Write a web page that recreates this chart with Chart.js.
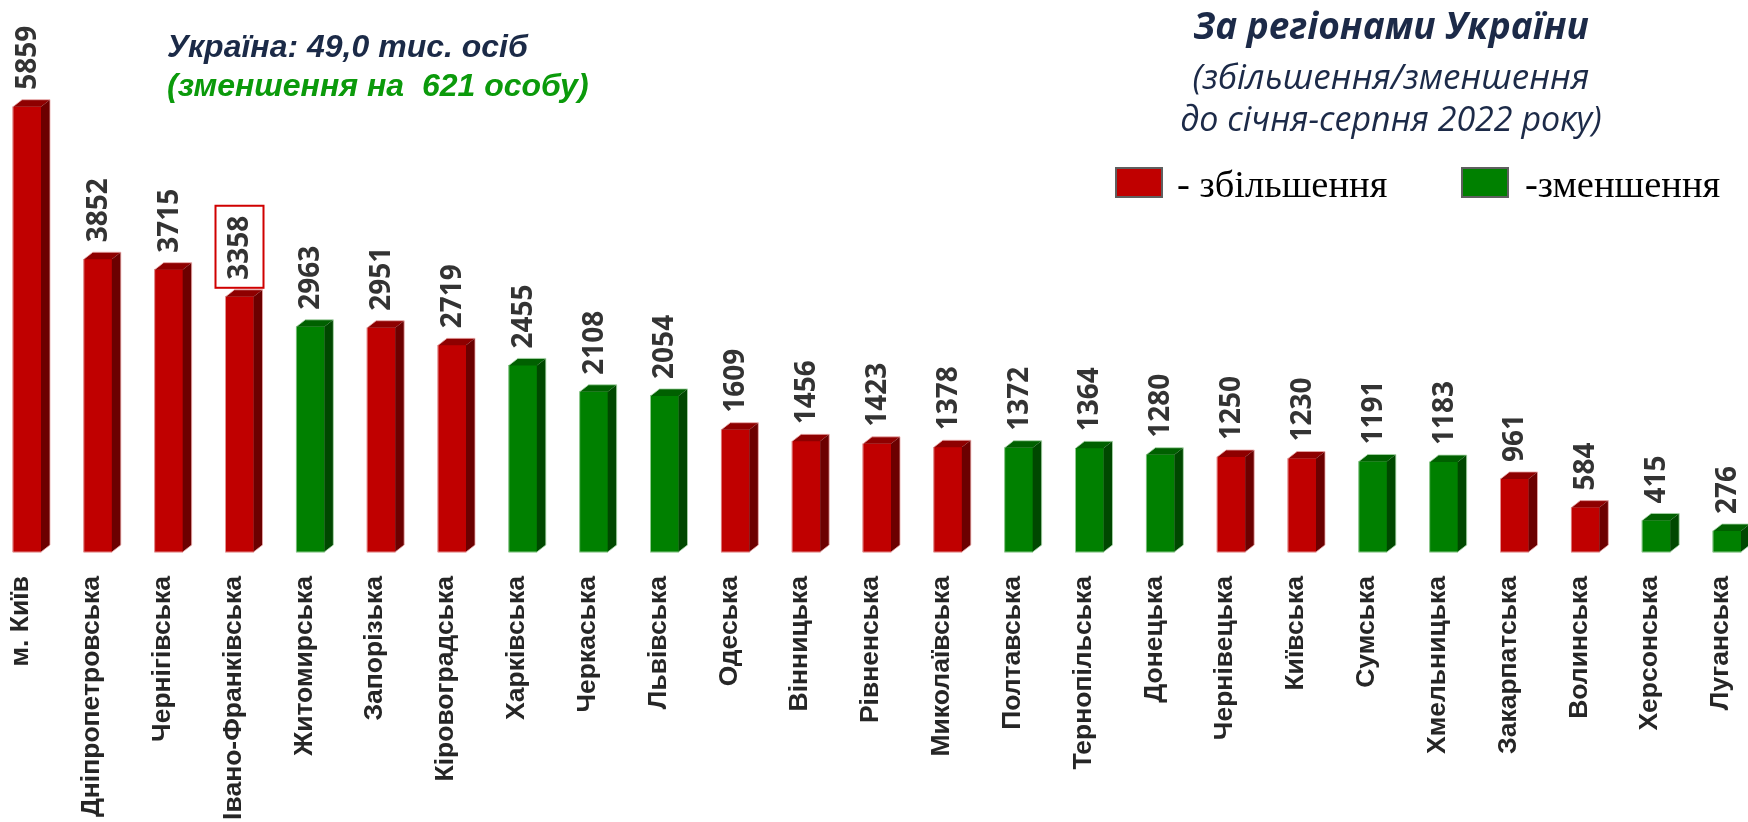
<!DOCTYPE html>
<html lang="uk">
<head>
<meta charset="utf-8">
<script src="https://cdn.jsdelivr.net/npm/chart.js@4.4.1/dist/chart.umd.min.js"></script>
<style>
  html, body { margin: 0; padding: 0; background: #fff; }
  #wrap { position: relative; width: 1748px; height: 822px; overflow: hidden; }
  #chart { position: absolute; left: 0; top: 0; }
  .txt { position: absolute; white-space: nowrap; line-height: 1; }
  .note { font-family: "Liberation Sans", Arial, sans-serif; font-weight: bold; font-style: italic; font-size: 32px; }
  .head { font-family: "Open Sans", sans-serif; font-style: italic; color: #1c2a48; width: 600px; left: 1091px; text-align: center; }
  .legend-box { position: absolute; width: 48px; height: 31px; box-sizing: border-box; border: 2px solid #5f5f5f; }
  .legend-txt { font-family: "Liberation Serif", "Times New Roman", serif; font-size: 38.5px; color: #000; }
</style>
</head>
<body>
<div id="wrap">
  <canvas id="chart" width="1748" height="822"></canvas>

  <div class="txt note" style="left:167px; top:30px; color:#1b2a47;">Україна: 49,0 тис. осіб</div>
  <div class="txt note" style="left:167px; top:69px; color:#0b9a0b;">(зменшення на&nbsp; 621 особу)</div>

  <div class="txt head" style="top:6px; font-size:37px; font-weight:bold;">За регіонами України</div>
  <div class="txt head" style="top:58px; font-size:35px;">(збільшення/зменшення</div>
  <div class="txt head" style="top:101px; font-size:34px;">до січня-серпня 2022 року)</div>

  <div class="legend-box" style="left:1115px; top:167px; background:#c00000;"></div>
  <div class="txt legend-txt" style="left:1177px; top:165px;">- збільшення</div>
  <div class="legend-box" style="left:1461px; top:167px; background:#008000;"></div>
  <div class="txt legend-txt" style="left:1525px; top:165px;">-зменшення</div>
</div>

<script>
// regions, sorted by number of cases
const regions = ['м. Київ', 'Дніпропетровська', 'Чернігівська', 'Івано-Франківська', 'Житомирська',
  'Запорізька', 'Кіровоградська', 'Харківська', 'Черкаська', 'Львівська', 'Одеська', 'Вінницька',
  'Рівненська', 'Миколаївська', 'Полтавська', 'Тернопільська', 'Донецька', 'Чернівецька', 'Київська',
  'Сумська', 'Хмельницька', 'Закарпатська', 'Волинська', 'Херсонська', 'Луганська'];
const values = [5859, 3852, 3715, 3358, 2963, 2951, 2719, 2455, 2108, 2054, 1609, 1456,
  1423, 1378, 1372, 1364, 1280, 1250, 1230, 1191, 1183, 961, 584, 415, 276];
// change vs Jan-Aug 2022
const trend = ['up', 'up', 'up', 'up', 'down', 'up', 'up', 'down', 'down', 'down', 'up', 'up',
  'up', 'up', 'down', 'down', 'down', 'up', 'up', 'down', 'down', 'up', 'up', 'down', 'down'];
const highlighted = ['Івано-Франківська'];

const palette = {
  up:   { front: '#c00000', top: '#8e0000', side: '#6c0000', edge: 'rgba(235,170,170,0.8)' },
  down: { front: '#008000', top: '#006000', side: '#004800', edge: 'rgba(170,215,170,0.8)' }
};
const DX = 9, DY = 7;

// top + side faces so the bars look like the excel 3d columns
const bar3d = {
  id: 'bar3d',
  afterDatasetsDraw(chart) {
    const ctx = chart.ctx;
    chart.getDatasetMeta(0).data.forEach((bar, i) => {
      const { x, y, base, width } = bar.getProps(['x', 'y', 'base', 'width'], true);
      const l = x - width / 2, r = x + width / 2;
      const c = palette[trend[i]];
      ctx.save();
      ctx.fillStyle = c.top;
      ctx.beginPath();
      ctx.moveTo(l, y); ctx.lineTo(l + DX, y - DY); ctx.lineTo(r + DX, y - DY); ctx.lineTo(r, y);
      ctx.closePath(); ctx.fill();
      ctx.fillStyle = c.side;
      ctx.beginPath();
      ctx.moveTo(r, y); ctx.lineTo(r + DX, y - DY); ctx.lineTo(r + DX, base - DY); ctx.lineTo(r, base);
      ctx.closePath(); ctx.fill();
      // thin light outline
      ctx.strokeStyle = c.edge;
      ctx.lineWidth = 1;
      ctx.beginPath();
      ctx.moveTo(l, base); ctx.lineTo(l, y); ctx.lineTo(l + DX, y - DY); ctx.lineTo(r + DX, y - DY);
      ctx.lineTo(r + DX, base - DY); ctx.lineTo(r, base); ctx.closePath();
      ctx.stroke();
      ctx.restore();
    });
  }
};

const valueLabels = {
  id: 'valueLabels',
  afterDatasetsDraw(chart) {
    const ctx = chart.ctx;
    ctx.save();
    ctx.font = 'bold 28px "Open Sans", sans-serif';
    ctx.fillStyle = '#333333';
    ctx.textAlign = 'left';
    ctx.textBaseline = 'middle';
    chart.getDatasetMeta(0).data.forEach((bar, i) => {
      const text = String(values[i]);
      const y0 = bar.y - 17;
      ctx.save();
      ctx.translate(bar.x, y0);
      ctx.rotate(-Math.PI / 2);
      ctx.fillText(text, 0, 1);
      ctx.restore();
      if (highlighted.includes(regions[i])) {
        const tw = ctx.measureText(text).width;
        ctx.save();
        ctx.strokeStyle = '#d00000';
        ctx.lineWidth = 2;
        ctx.strokeRect(bar.x - 24, y0 - tw - 10, 48, tw + 18);
        ctx.restore();
      }
    });
    ctx.restore();
  }
};

new Chart(document.getElementById('chart'), {
  type: 'bar',
  data: {
    labels: regions,
    datasets: [{
      data: values,
      backgroundColor: trend.map(t => palette[t].front),
      barThickness: 28,
      clip: false
    }]
  },
  options: {
    responsive: false,
    animation: false,
    devicePixelRatio: 1,
    layout: { padding: { top: 20, left: 27, right: 21, bottom: 0 } },
    plugins: {
      legend: { display: false },
      tooltip: { enabled: false }
    },
    scales: {
      x: {
        offset: false,
        grid: { display: false },
        border: { display: false },
        ticks: {
          autoSkip: false,
          maxRotation: 90,
          minRotation: 90,
          padding: 16,
          labelOffset: -6,
          color: '#262626',
          font: { family: '"Liberation Sans", Arial, sans-serif', weight: 'bold', size: 26.5 }
        },
        afterFit: scale => {
          scale.height = 270;
          scale.paddingLeft = 0;
          scale.paddingRight = 0;
        }
      },
      y: { display: false, min: 0, max: 7000 }
    }
  },
  plugins: [bar3d, valueLabels]
});
</script>
</body>
</html>
